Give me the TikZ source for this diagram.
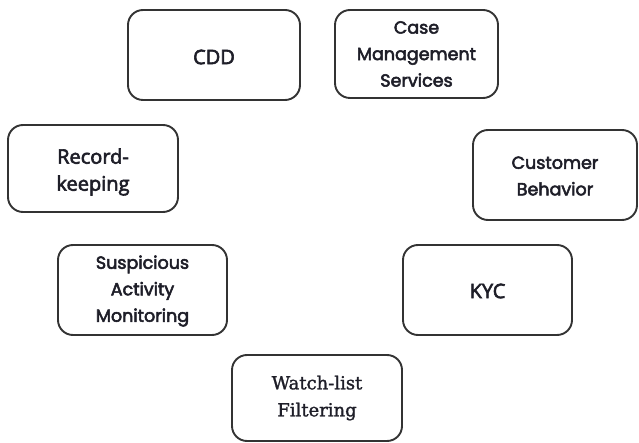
\documentclass[tikz,border=0pt]{standalone}
\usepackage{fontspec}
\setmainfont{Poppins}
\newfontfamily\geosans{Poppins}[FakeBold=3]
\newfontfamily\plainsans{Open Sans}[FakeBold=3]
\newfontfamily\bookserif{DejaVu Serif}[FakeBold=1.5]
\definecolor{ink}{HTML}{1E1E28}
\definecolor{edge}{HTML}{333333}
\begin{document}
\begin{tikzpicture}[x=1pt,y=-1pt,
  card/.style={draw=edge, line width=1.9pt, rounded corners=15pt, fill=white},
  lbl/.style={text=ink, align=center, font=\geosans\fontsize{17.5}{26.5}\selectfont},
  lblsans/.style={text=ink, align=center, font=\plainsans\fontsize{20}{27}\selectfont},
  lblserif/.style={text=ink, align=center, font=\bookserif\fontsize{18}{27}\selectfont}]
\useasboundingbox (0,0) rectangle (639,443);

% boxes
\draw[card] (128,10) rectangle (300,100);
\draw[card] (335,10) rectangle (498,98);
\draw[card] (8,125) rectangle (178,212);
\draw[card] (473,130) rectangle (637,220);
\draw[card] (58,245) rectangle (227,335);
\draw[card] (403,245) rectangle (572,335);
\draw[card] (232,355) rectangle (402,441);

% labels
\node[lblsans] (cdd) at (214,57) {CDD};
\node[lbl] (cms) at (416.5,54) {Case\\Management\\Services};
\node[lblsans] (rk) at (93,172) {Record-\\keeping};
\node[lbl] (cb) at (555,176) {Customer\\Behavior};
\node[lbl] (sam) at (142.5,291) {Suspicious\\Activity\\Monitoring};
\node[lblsans] (kyc) at (487.5,291) {KYC};
\node[lblserif] (wlf) at (317,398) {Watch-list\\Filtering};
\end{tikzpicture}
\end{document}
